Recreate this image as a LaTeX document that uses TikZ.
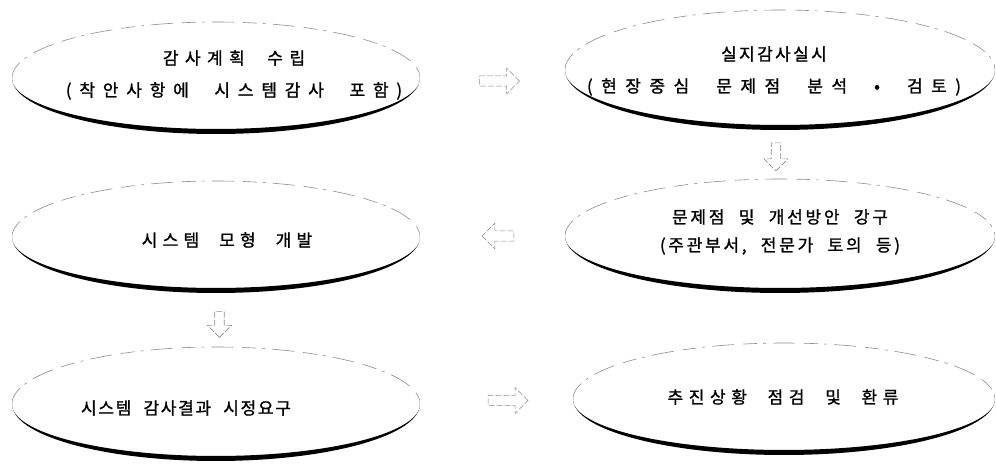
\documentclass[tikz,border=0pt]{standalone}
\usepackage{fontspec}
\newfontfamily\kr[LetterSpace=16,WordSpace=2.2,FakeBold=1.2]{Noto Sans CJK KR}
\newcommand\ls[2]{{\addfontfeatures{LetterSpace=#1}#2}}
\usetikzlibrary{shapes.geometric,shapes.arrows,calc}
\tikzset{
  oval/.style={rectangle, draw=none, inner sep=0pt, font=\kr\fontsize{17}{32}\selectfont, align=center},
  blockarrow/.style={single arrow, draw=black!45, line width=0.6pt, dash pattern=on 6pt off 2pt, minimum width=26pt, minimum height=40pt, single arrow head extend=2pt, single arrow head indent=0pt, inner sep=1pt},
  topedge/.style={black!45, line width=0.6pt, dash pattern=on 14pt off 6pt on 3pt off 7pt on 22pt off 9pt}
}
% node, rx, ry, dx, dy (ellipse centre relative to the text centre)
\newcommand\shadedoval[5]{%
  \begin{scope}[shift={($(#1.center)+(#4,#5)$)}]
  \fill[black] plot[domain=-4:184, samples=80, smooth] ({#2*cos(\x)},{#3*sin(\x)})
     -- plot[domain=184:-4, samples=80, smooth] ({#2*cos(\x)},{(#3-5.5)*sin(\x)+0.5}) -- cycle;
  \draw[topedge] plot[domain=184:356, samples=80, smooth] ({#2*cos(\x)},{#3*sin(\x)});
  \end{scope}
}
\begin{document}
\begin{tikzpicture}[x=1pt,y=-1pt]
\useasboundingbox (0,0) rectangle (996,468);
\node[oval] (plan) at (234,75) {\ls{38}{감사계획 수립}\\\ls{46}{(착안사항에 시스템감사 포함)}};
\node[oval] (site) at (774,71) {\ls{14}{실지감사실시}\\\ls{50}{(현장중심 문제점 분석 • 검토)}};
\node[oval, font=\kr\fontsize{17}{28}\selectfont] (prob) at (780,232) {문제점 및 개선방안 강구\\(주관부서, 전문가 토의 등)};
\node[oval] (model) at (227,240) {\ls{31}{시스템 모형 개발}};
\node[oval] (req) at (186,408) {\ls{10}{시스템 감사결과 시정요구}};
\node[oval] (fb) at (783,397) {\ls{33}{추진상황 점검 및 환류}};
\shadedoval{plan}{204}{56}{-18}{3}
\shadedoval{site}{215}{60}{6}{-1}
\shadedoval{prob}{215}{57}{0}{4}
\shadedoval{model}{204}{56}{-11}{-3}
\shadedoval{req}{204}{57}{30}{-4}
\shadedoval{fb}{211}{56}{1}{2}
\node[blockarrow] (a1) at ($(plan.center)!0.5!(site.center)+(-7,8)$) {};
\node[blockarrow, shape border rotate=270, minimum height=28pt, minimum width=24pt] (a2) at ($(site.center)!0.5!(prob.center)+(-1,3)$) {};
\node[blockarrow, shape border rotate=180, minimum height=32pt] (a3) at ($(prob.center)!0.5!(model.center)+(-3,0)$) {};
\node[blockarrow, shape border rotate=270, minimum height=26pt, minimum width=24pt] (a4) at ($(model.center)!0.5!(req.center)+(13,-2)$) {};
\node[blockarrow] (a5) at ($(req.center)!0.5!(fb.center)+(21,-2)$) {};
\end{tikzpicture}
\end{document}
